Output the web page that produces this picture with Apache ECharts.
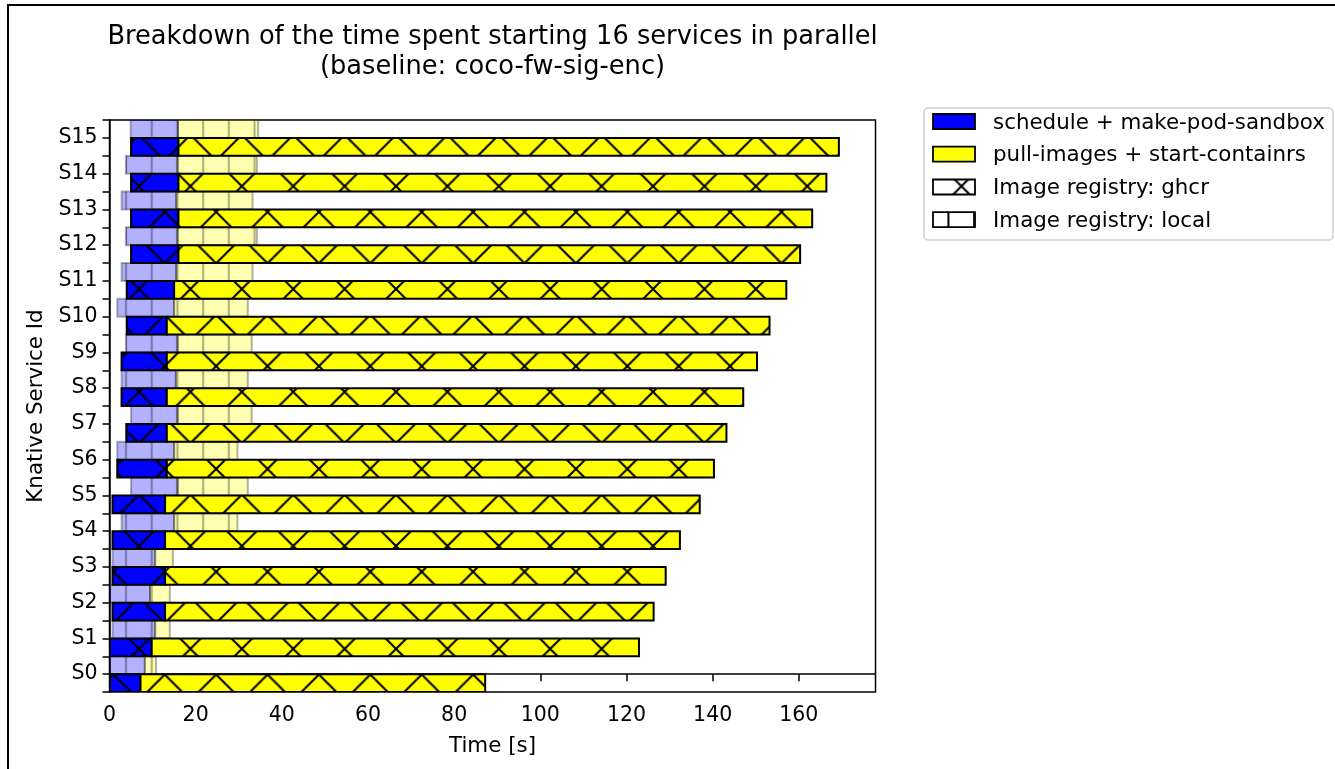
<!DOCTYPE html>
<html>
<head>
<meta charset="utf-8">
<script src="https://cdn.jsdelivr.net/npm/echarts@6/dist/echarts.min.js"></script>
<style>
  html, body { margin: 0; padding: 0; background: #fff; }
  #chart { width: 1335px; height: 769px; }
</style>
</head>
<body>
<div id="chart"></div>
<script>
// Knative services started in parallel
const services = ['S0', 'S1', 'S2', 'S3', 'S4', 'S5', 'S6', 'S7',
                  'S8', 'S9', 'S10', 'S11', 'S12', 'S13', 'S14', 'S15'];

// Image registry: ghcr (seconds)
const ghcrScheduleStart = [0.1, 0.1, 0.7, 0.7, 0.7, 0.7, 1.8, 3.9, 2.8, 2.8, 4.0, 4.0, 5.0, 5.0, 5.0, 5.0];
const ghcrPullStart     = [7.2, 9.8, 12.9, 12.9, 12.9, 12.9, 13.3, 13.3, 13.3, 13.3, 13.3, 15.0, 16.0, 16.0, 16.0, 16.0];
const ghcrPullEnd       = [87.2, 122.9, 126.3, 129.1, 132.4, 137.0, 140.3, 143.2, 147.1, 150.3, 153.2, 157.1, 160.3, 163.1, 166.4, 169.3];

// Image registry: local (seconds)
const localScheduleStart = [0.1, 0.7, 0.1, 0.7, 2.8, 5.0, 1.8, 5.0, 2.8, 3.8, 1.8, 2.8, 3.8, 2.8, 3.8, 4.9];
const localPullStart     = [8.2, 10.6, 9.4, 10.6, 15.0, 15.8, 15.0, 15.8, 15.4, 15.8, 15.0, 15.5, 15.8, 15.5, 15.8, 15.9];
const localPullEnd       = [10.8, 14.0, 14.0, 14.7, 29.7, 32.1, 29.7, 33.0, 32.1, 33.0, 32.1, 33.2, 34.2, 33.2, 34.2, 34.5];

const timeTicks = [0, 20, 40, 60, 80, 100, 120, 140, 160];
const timeMax = 177.8;

const legendLabels = ['schedule + make-pod-sandbox', 'pull-images + start-containrs',
                      'Image registry: ghcr', 'Image registry: local'];

const FONT = 'DejaVu Sans';
const BLUE = '#0000ff';
const YELLOW = '#ffff00';

// ---- hatch textures (anchored to the canvas origin) ----
const HATCH = 51.4; // spacing of the diagonal cross hatch, px

function crossTile(size, lw, color) {
  const c = document.createElement('canvas');
  c.width = c.height = size;
  const g = c.getContext('2d');
  g.strokeStyle = color;
  g.lineWidth = lw;
  g.beginPath();
  for (const d of [-size, 0, size]) {
    g.moveTo(d, 0); g.lineTo(d + size, size);
    g.moveTo(d + size, 0); g.lineTo(d, size);
  }
  g.stroke();
  return c;
}
function vlineTile(size, lw, color) {
  const c = document.createElement('canvas');
  c.width = c.height = size;
  const g = c.getContext('2d');
  g.fillStyle = color;
  g.fillRect(size / 2 - lw / 2, 0, lw, size);
  return c;
}
const crossScale = HATCH / 52;
const vScale = (HATCH / 2) / 26;
const crossHatch = { image: crossTile(52, 2.1, '#000'), repeat: 'repeat', x: 10.5, y: 6.3, scaleX: crossScale, scaleY: crossScale };
const vHatchFaded = { image: vlineTile(26, 2.3, 'rgba(0,0,0,0.3)'), repeat: 'repeat', x: 10.35, y: 0, scaleX: vScale, scaleY: vScale };
const vHatchSolid = { image: vlineTile(26, 2.0, '#000'), repeat: 'repeat', x: 10.35, y: 0, scaleX: vScale, scaleY: vScale };

function segment(x0, x1, yTop, yBot, fill, hatch, edge, lw) {
  const shape = { x: x0, y: yTop, width: x1 - x0, height: yBot - yTop };
  return [
    { type: 'rect', shape: shape, style: { fill: fill, stroke: 'none' } },
    { type: 'rect', shape: shape, style: { fill: hatch, stroke: 'none' } },
    { type: 'rect', shape: shape, style: { fill: 'none', stroke: edge, lineWidth: lw } }
  ];
}

// each service row: local run in the upper half, ghcr run in the lower half
function makeRenderer(lo, hi, colors, hatch, edge, lw) {
  return function (params, api) {
    const i = api.value(0);
    const yTop = api.coord([0, i + hi])[1];
    const yBot = api.coord([0, i + lo])[1];
    const xa = api.coord([api.value(1), i])[0];
    const xb = api.coord([api.value(2), i])[0];
    const xc = api.coord([api.value(3), i])[0];
    return {
      type: 'group',
      children: segment(xa, xb, yTop, yBot, colors[0], hatch, edge, lw)
        .concat(segment(xb, xc, yTop, yBot, colors[1], hatch, edge, lw))
    };
  };
}

const ghcrData = services.map((s, i) => [i, ghcrScheduleStart[i], ghcrPullStart[i], ghcrPullEnd[i]]);
const localData = services.map((s, i) => [i, localScheduleStart[i], localPullStart[i], localPullEnd[i]]);

const yTickValues = [];
for (let i = 0; i <= services.length * 2; i++) yTickValues.push(-0.5 + i * 0.5);

// ---- legend drawn as graphic elements ----
const legendX = 933, legendW = 42, legendH = 15, legendTextX = 993;
const legendRows = [121.5, 154.2, 187, 219.7];
const legendFills = [
  { fill: BLUE, hatch: null },
  { fill: YELLOW, hatch: null },
  { fill: '#fff', hatch: crossHatch },
  { fill: '#fff', hatch: vHatchSolid }
];
const legendGraphics = [
  { type: 'rect', shape: { x: 924, y: 108, width: 409, height: 132, r: 4 },
    style: { fill: 'rgba(255,255,255,0.8)', stroke: '#d0d0d0', lineWidth: 1.5 }, z: 10 }
];
legendLabels.forEach((label, k) => {
  const shape = { x: legendX, y: legendRows[k] - legendH / 2, width: legendW, height: legendH };
  legendGraphics.push({ type: 'rect', shape: shape, style: { fill: legendFills[k].fill, stroke: 'none' }, z: 11 });
  if (legendFills[k].hatch) {
    legendGraphics.push({ type: 'rect', shape: shape, style: { fill: legendFills[k].hatch, stroke: 'none' }, z: 11 });
  }
  legendGraphics.push({ type: 'rect', shape: shape, style: { fill: 'none', stroke: '#000', lineWidth: 1.8 }, z: 12 });
  legendGraphics.push({ type: 'text', x: legendTextX, y: legendRows[k] + 1.5,
    style: { text: label, fontFamily: FONT, fontSize: 21.4, fill: '#000', verticalAlign: 'middle', textAlign: 'left' }, z: 12 });
});
// figure frame
legendGraphics.push({ type: 'polyline', shape: { points: [[8, 769], [8, 5], [1335, 5]] },
  style: { stroke: '#000', lineWidth: 2, fill: 'none' }, z: 12 });

const chart = echarts.init(document.getElementById('chart'), null, { renderer: 'canvas' });
chart.setOption({
  animation: false,
  backgroundColor: '#fff',
  title: {
    text: 'Breakdown of the time spent starting 16 services in parallel\n(baseline: coco-fw-sig-enc)',
    left: 487.5, top: 17, textAlign: 'center',
    textStyle: { fontFamily: FONT, fontSize: 25.7, fontWeight: 'normal', color: '#000', lineHeight: 30.5 }
  },
  grid: {
    left: 109.5, top: 120, width: 766, height: 572,
    show: true, borderColor: '#000', borderWidth: 1.5, backgroundColor: 'transparent',
    containLabel: false, outerBoundsMode: 'none'
  },
  xAxis: {
    type: 'value', min: 0, max: timeMax,
    name: 'Time [s]', nameLocation: 'middle', nameGap: 44,
    nameTextStyle: { fontFamily: FONT, fontSize: 21.4, color: '#000' },
    axisLine: { show: true, lineStyle: { color: '#000', width: 1.5 } },
    axisTick: { show: true, length: 7, lineStyle: { color: '#000', width: 1.5 }, customValues: timeTicks },
    axisLabel: { customValues: timeTicks, margin: 13, fontFamily: FONT, fontSize: 20.5, color: '#000' },
    splitLine: { show: false }
  },
  yAxis: {
    type: 'value', min: -0.5, max: services.length - 0.5, interval: 0.5,
    name: 'Knative Service Id', nameLocation: 'middle', nameGap: 63,
    nameTextStyle: { fontFamily: FONT, fontSize: 21.4, color: '#000' },
    axisLine: { show: true, lineStyle: { color: '#000', width: 1.5 } },
    axisTick: { show: true, length: 7, lineStyle: { color: '#000', width: 1.5 }, customValues: yTickValues },
    axisLabel: {
      customValues: services.map((s, i) => i),
      formatter: v => services[Math.round(v)],
      margin: 12, fontFamily: FONT, fontSize: 20.5, color: '#000'
    },
    splitLine: { show: false }
  },
  series: [
    {
      type: 'custom', name: 'Image registry: local', silent: true, clip: true,
      renderItem: makeRenderer(0, 0.5, ['rgba(0,0,255,0.3)', 'rgba(255,255,0,0.3)'], vHatchFaded, 'rgba(0,0,0,0.3)', 2),
      encode: { x: [1, 2, 3], y: 0 },
      data: localData
    },
    {
      type: 'custom', name: 'Image registry: ghcr', silent: true, clip: true,
      renderItem: makeRenderer(-0.5, 0, [BLUE, YELLOW], crossHatch, '#000', 2),
      encode: { x: [1, 2, 3], y: 0 },
      data: ghcrData
    }
  ],
  graphic: legendGraphics
});
</script>
</body>
</html>
